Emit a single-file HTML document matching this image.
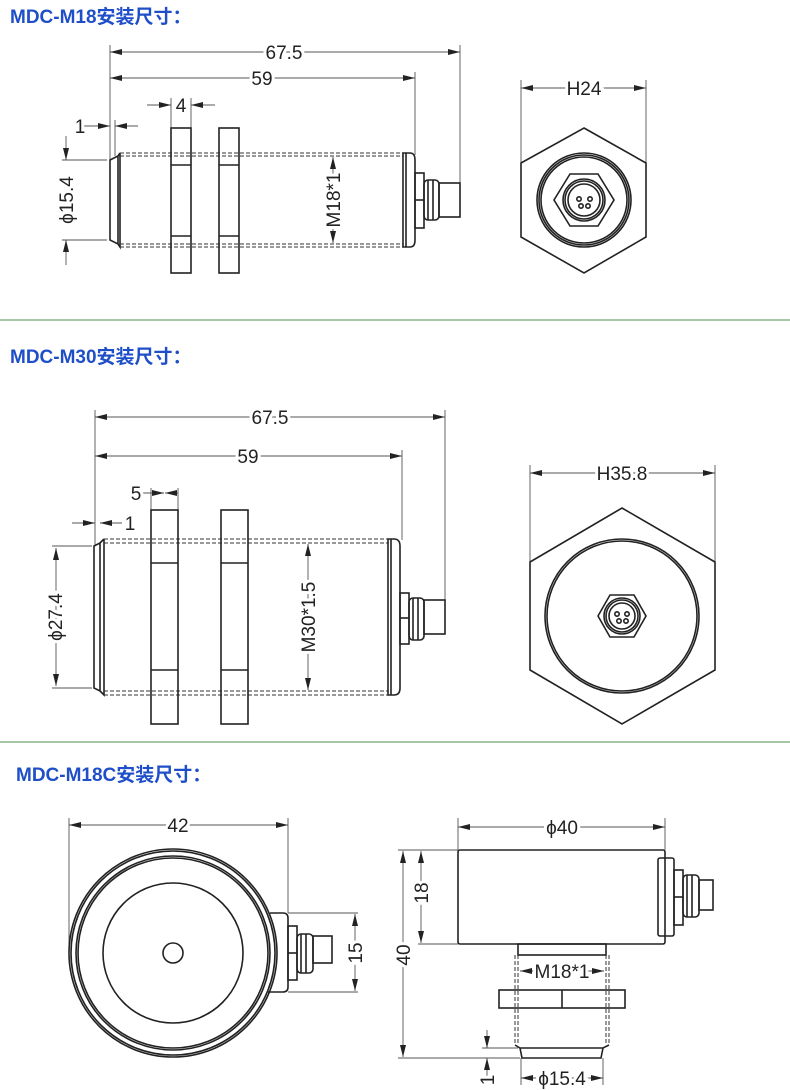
<!DOCTYPE html>
<html><head><meta charset="utf-8"><style>
html,body{margin:0;padding:0;background:#fff;}
svg{display:block;}
.t{font-family:"Liberation Sans","Noto Sans CJK SC",sans-serif;font-weight:bold;font-size:19px;fill:#1f4fc8;}
.d{font-family:"Liberation Sans Narrow","Liberation Sans",sans-serif;font-size:19px;fill:#222;paint-order:stroke;stroke:#fff;stroke-width:6px;text-anchor:middle;}
.o{fill:none;stroke:#222;stroke-width:1.6;}
.h{fill:none;stroke:#333;stroke-width:1;stroke-dasharray:4 2;}
.m{fill:none;stroke:#555;stroke-width:0.9;}
.a{fill:none;stroke:#555;stroke-width:0.9;marker-start:url(#ar);marker-end:url(#ar);}
.e{fill:none;stroke:#555;stroke-width:0.9;marker-end:url(#ar);}
</style></head><body>
<svg width="790" height="1090" viewBox="0 0 790 1090" xmlns="http://www.w3.org/2000/svg">
<defs><marker id="ar" viewBox="0 0 12 6" refX="12" refY="3" markerWidth="12" markerHeight="6" markerUnits="userSpaceOnUse" orient="auto-start-reverse"><path d="M0,0 L12,3 L0,6z" fill="#222"/></marker></defs>

<text class="t" x="10" y="23">MDC-M18安装尺寸：</text>
<line class="m" x1="110" y1="45" x2="110" y2="160"/>
<line class="m" x1="460" y1="45" x2="460" y2="183"/>
<line class="m" x1="415" y1="72" x2="415" y2="155"/>
<line class="a" x1="110" y1="52" x2="460" y2="52"/><text class="d" x="284" y="59">67.5</text>
<line class="a" x1="110" y1="78" x2="415" y2="78"/><text class="d" x="262" y="85">59</text>
<line class="m" x1="171" y1="98" x2="171" y2="128"/><line class="m" x1="191" y1="98" x2="191" y2="128"/>
<line class="e" x1="147" y1="105" x2="171" y2="105"/><line class="e" x1="215" y1="105" x2="191" y2="105"/><text class="d" x="181" y="112">4</text>
<line class="m" x1="115" y1="120" x2="115" y2="156"/>
<line class="e" x1="84" y1="126" x2="110" y2="126"/><line class="e" x1="138" y1="126" x2="115" y2="126"/><text class="d" x="80" y="133">1</text>
<line class="m" x1="62" y1="160" x2="107" y2="160"/><line class="m" x1="62" y1="240" x2="107" y2="240"/>
<line class="e" x1="66" y1="136" x2="66" y2="160"/><line class="e" x1="66" y1="265" x2="66" y2="240"/>
<text class="d" transform="translate(73,200) rotate(-90)">ϕ15.4</text>
<path class="o" d="M118,156 L110,160 L110,240 L118,244 Z M118,156 L120,153 M118,244 L120,247 L120,153"/>
<line class="h" x1="120" y1="153" x2="403" y2="153"/><line class="h" x1="120" y1="156" x2="403" y2="156"/>
<line class="h" x1="120" y1="244" x2="403" y2="244"/><line class="h" x1="120" y1="247" x2="403" y2="247"/>
<path class="o" d="M403,153 L410,153 Q415,153 415,160 L415,240 Q415,247 410,247 L403,247 Z M406,153 L406,247"/>
<rect class="o" x="415" y="173" width="9" height="55"/><line class="o" x1="415" y1="200" x2="424" y2="200"/>
<rect class="o" x="424" y="180" width="15" height="40" rx="4"/><line class="o" x1="428" y1="180" x2="428" y2="220"/><line class="o" x1="433" y1="180" x2="433" y2="220"/>
<rect class="o" x="439" y="183" width="21" height="34"/>
<rect class="o" x="171" y="128" width="20" height="145" fill="#fff"/><line class="o" x1="171" y1="165" x2="191" y2="165"/><line class="o" x1="171" y1="236" x2="191" y2="236"/>
<rect class="o" x="219" y="128" width="20" height="145" fill="#fff"/><line class="o" x1="219" y1="165" x2="239" y2="165"/><line class="o" x1="219" y1="236" x2="239" y2="236"/>
<line class="a" x1="333" y1="157" x2="333" y2="243"/>
<text class="d" transform="translate(340,200) rotate(-90)">M18*1</text>
<line class="m" x1="521" y1="80" x2="521" y2="163"/><line class="m" x1="646" y1="80" x2="646" y2="163"/>
<line class="a" x1="521" y1="88" x2="646" y2="88"/><text class="d" x="584" y="95">H24</text>
<polygon class="o" points="584,128 646,163 646,237 584,273 521,237 521,163"/>
<circle class="o" cx="584" cy="200" r="47"/><circle class="o" cx="584" cy="200" r="45"/><circle class="o" cx="584" cy="200" r="43"/>
<polygon class="o" points="570,174 598,174 614,200 598,226 570,226 554,200"/>
<circle class="o" cx="584" cy="200" r="21"/><circle class="o" cx="584" cy="200" r="19"/><circle class="o" cx="584" cy="200" r="16"/>
<circle class="o" cx="579" cy="199" r="2.2"/><circle class="o" cx="590" cy="199" r="2.2"/><circle class="o" cx="581" cy="206" r="2.2"/><circle class="o" cx="588" cy="206" r="2.2"/>
<line x1="0" y1="320" x2="790" y2="320" stroke="#4f8f4f" stroke-width="1"/>

<text class="t" x="10" y="363">MDC-M30安装尺寸：</text>
<line class="m" x1="95" y1="410" x2="95" y2="546"/>
<line class="m" x1="445" y1="410" x2="445" y2="600"/>
<line class="m" x1="402" y1="450" x2="402" y2="540"/>
<line class="a" x1="95" y1="417" x2="445" y2="417"/><text class="d" x="270" y="424">67.5</text>
<line class="a" x1="95" y1="456" x2="402" y2="456"/><text class="d" x="248" y="463">59</text>
<line class="m" x1="151" y1="488" x2="151" y2="510"/><line class="m" x1="178" y1="488" x2="178" y2="510"/>
<line class="e" x1="141" y1="493" x2="164" y2="493"/><line class="e" x1="178" y1="493" x2="165" y2="493"/>
<text class="d" x="136" y="500">5</text>
<line class="e" x1="72" y1="523" x2="95" y2="523"/><line class="e" x1="122" y1="523" x2="100" y2="523"/><text class="d" x="130" y="530">1</text>
<line class="m" x1="52" y1="546" x2="92" y2="546"/><line class="m" x1="52" y1="688" x2="92" y2="688"/>
<line class="a" x1="56" y1="548" x2="56" y2="686"/>
<text class="d" transform="translate(62,617) rotate(-90)">ϕ27.4</text>
<path class="o" d="M100,543 L94,546 L94,688 L100,691 Z M100,543 L104,539 M100,691 L104,695 L104,539"/>
<line class="h" x1="104" y1="539" x2="388" y2="539"/><line class="h" x1="104" y1="543" x2="388" y2="543"/>
<line class="h" x1="104" y1="691" x2="388" y2="691"/><line class="h" x1="104" y1="695" x2="388" y2="695"/>
<path class="o" d="M388,539 L394,539 Q400,539 400,546 L400,688 Q400,695 394,695 L388,695 Z M391,539 L391,695"/>
<rect class="o" x="400" y="593" width="9" height="51"/><line class="o" x1="400" y1="618" x2="409" y2="618"/>
<rect class="o" x="409" y="598" width="15" height="42" rx="4"/><line class="o" x1="413" y1="598" x2="413" y2="640"/><line class="o" x1="418" y1="598" x2="418" y2="640"/>
<rect class="o" x="424" y="600" width="21" height="34"/>
<rect class="o" x="151" y="510" width="27" height="214" fill="#fff"/><line class="o" x1="151" y1="563" x2="178" y2="563"/><line class="o" x1="151" y1="670" x2="178" y2="670"/>
<rect class="o" x="221" y="510" width="27" height="214" fill="#fff"/><line class="o" x1="221" y1="563" x2="248" y2="563"/><line class="o" x1="221" y1="670" x2="248" y2="670"/>
<line class="a" x1="308" y1="544" x2="308" y2="690"/>
<text class="d" transform="translate(315,617) rotate(-90)">M30*1.5</text>
<line class="m" x1="530" y1="465" x2="530" y2="562"/><line class="m" x1="715" y1="465" x2="715" y2="562"/>
<line class="a" x1="530" y1="473" x2="715" y2="473"/><text class="d" x="622" y="480">H35.8</text>
<polygon class="o" points="622,508 715,562 715,670 622,724 530,670 530,562"/>
<circle class="o" cx="622" cy="616" r="77"/><circle class="o" cx="622" cy="616" r="75"/>
<polygon class="o" points="610,595 634,595 646,616 634,637 610,637 598,616"/>
<circle class="o" cx="622" cy="616" r="18"/><circle class="o" cx="622" cy="616" r="16"/><circle class="o" cx="622" cy="616" r="13"/>
<circle class="o" cx="617" cy="614" r="2.2"/><circle class="o" cx="627" cy="614" r="2.2"/><circle class="o" cx="619" cy="621" r="2.2"/><circle class="o" cx="626" cy="621" r="2.2"/>
<line x1="0" y1="742" x2="790" y2="742" stroke="#4f8f4f" stroke-width="1"/>

<text class="t" x="16" y="781">MDC-M18C安装尺寸：</text>
<line class="m" x1="69" y1="818" x2="69" y2="950"/><line class="m" x1="288" y1="818" x2="288" y2="913"/>
<line class="a" x1="69" y1="825" x2="288" y2="825"/><text class="d" x="178" y="832">42</text>
<circle class="o" cx="173" cy="953" r="104"/><circle class="o" cx="173" cy="953" r="102"/><circle class="o" cx="173" cy="953" r="97"/><circle class="o" cx="173" cy="953" r="95"/>
<circle class="o" cx="173" cy="953" r="70"/><circle class="o" cx="173" cy="953" r="10"/>
<path class="o" d="M270,913 L283,913 Q288,913 288,918 L288,987 Q288,992 283,992 L268,992"/>
<rect class="o" x="288" y="926" width="9" height="54"/><line class="o" x1="288" y1="953" x2="297" y2="953"/>
<rect class="o" x="297" y="934" width="16" height="39" rx="4"/><line class="o" x1="301" y1="934" x2="301" y2="973"/><line class="o" x1="306" y1="934" x2="306" y2="973"/>
<rect class="o" x="313" y="936" width="19" height="27"/>
<line class="m" x1="288" y1="913" x2="358" y2="913"/><line class="m" x1="288" y1="992" x2="358" y2="992"/>
<line class="a" x1="355" y1="914" x2="355" y2="991"/>
<text class="d" transform="translate(362,953) rotate(-90)">15</text>
<line class="m" x1="458" y1="818" x2="458" y2="850"/><line class="m" x1="665" y1="818" x2="665" y2="850"/>
<line class="a" x1="458" y1="827" x2="665" y2="827"/><text class="d" x="562" y="834">ϕ40</text>
<rect class="o" x="458" y="850" width="207" height="94" rx="2"/>
<rect class="o" x="658" y="858" width="16" height="78" rx="2"/>
<rect class="o" x="674" y="870" width="9" height="55"/><line class="o" x1="674" y1="897" x2="683" y2="897"/>
<rect class="o" x="683" y="875" width="16" height="42" rx="4"/><line class="o" x1="687" y1="875" x2="687" y2="917"/><line class="o" x1="692" y1="875" x2="692" y2="917"/>
<rect class="o" x="699" y="880" width="14" height="30"/>
<line class="m" x1="398" y1="850" x2="458" y2="850"/><line class="m" x1="418" y1="944" x2="458" y2="944"/>
<line class="m" x1="398" y1="1058" x2="520" y2="1058"/>
<line class="a" x1="403" y1="851" x2="403" y2="1057"/><text class="d" transform="translate(410,955) rotate(-90)">40</text>
<line class="a" x1="421" y1="851" x2="421" y2="943"/><text class="d" transform="translate(428,893) rotate(-90)">18</text>
<rect class="o" x="518" y="944" width="88" height="11"/>
<line class="h" x1="515" y1="955" x2="515" y2="1045"/><line class="h" x1="518" y1="955" x2="518" y2="1045"/>
<line class="h" x1="606" y1="955" x2="606" y2="1045"/><line class="h" x1="609" y1="955" x2="609" y2="1045"/>
<line class="a" x1="520" y1="971" x2="604" y2="971"/><text class="d" x="562" y="978">M18*1</text>
<rect class="o" x="499" y="990" width="126" height="18" fill="#fff"/><line class="o" x1="562" y1="990" x2="562" y2="1008"/>
<path class="o" d="M515,1045 L520,1048 L603,1048 L609,1045 M520,1048 L522,1058 L601,1058 L603,1048"/>
<line class="m" x1="482" y1="1048" x2="518" y2="1048"/>
<line class="e" x1="487" y1="1030" x2="487" y2="1048"/><line class="e" x1="487" y1="1078" x2="487" y2="1058"/>
<text class="d" transform="translate(494,1080) rotate(-90)">1</text>
<line class="m" x1="521" y1="1058" x2="521" y2="1085"/><line class="m" x1="603" y1="1058" x2="603" y2="1085"/>
<line class="a" x1="521" y1="1078" x2="603" y2="1078"/><text class="d" x="562" y="1085">ϕ15.4</text>
</svg>
</body></html>
